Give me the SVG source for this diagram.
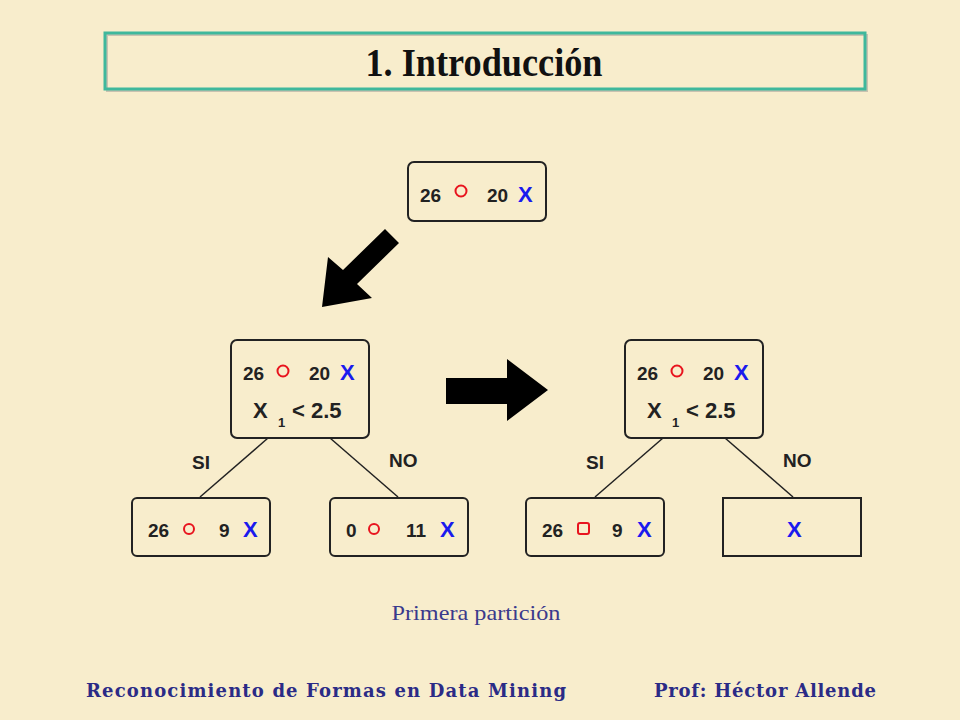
<svg xmlns="http://www.w3.org/2000/svg" width="960" height="720" viewBox="0 0 960 720">
<style>
.num{font-family:"Liberation Sans",Arial,sans-serif;font-weight:bold;font-size:19px;fill:#222}
.x{font-family:"Liberation Sans",Arial,sans-serif;font-weight:bold;font-size:22px;fill:#1a1aee}
.cond{font-family:"Liberation Sans",Arial,sans-serif;font-weight:bold;font-size:22px;fill:#222}
.sub{font-family:"Liberation Sans",Arial,sans-serif;font-weight:bold;font-size:13px;fill:#222}
.lab{font-family:"Liberation Sans",Arial,sans-serif;font-weight:bold;font-size:19px;fill:#222}
.box{fill:none;stroke:#222;stroke-width:2}
.o{fill:none;stroke:#e8141e;stroke-width:2}
.edge{stroke:#222;stroke-width:1.5;fill:none}
.foot{font-family:"DejaVu Serif","Liberation Serif",serif;font-weight:bold;font-size:18px;fill:#2b2b86}
</style>
<rect width="960" height="720" fill="#f8edcc"/>
<g id="title">
<rect x="107" y="35" width="760" height="56" fill="none" stroke="#c9c2b0" stroke-width="2"/>
<rect x="105" y="33" width="760" height="56" fill="none" stroke="#3fb89c" stroke-width="3"/>
<text x="484" y="76" text-anchor="middle" font-family="Liberation Serif,'Times New Roman',serif" font-weight="bold" font-size="40" textLength="237" lengthAdjust="spacingAndGlyphs" fill="#111">1. Introducción</text>
</g>
<g id="connectors">
<line class="edge" x1="268" y1="438" x2="200" y2="497"/>
<line class="edge" x1="330" y1="438" x2="398" y2="497"/>
<line class="edge" x1="663" y1="438" x2="595" y2="497"/>
<line class="edge" x1="725" y1="438" x2="793" y2="497"/>
<text class="lab" x="192" y="469">SI</text>
<text class="lab" x="389" y="467">NO</text>
<text class="lab" x="586" y="469">SI</text>
<text class="lab" x="783" y="467">NO</text>
</g>
<g id="arrow-down">
<polygon points="385,229 399,243 357,284 372,298 322,307 328,257 343,270" fill="#000"/>
</g>
<g id="arrow-right">
<polygon points="446,378 507,378 507,359 548,390 507,421 507,404 446,404" fill="#000"/>
</g>
<g id="root">
<rect class="box" x="408" y="162" width="138" height="59" rx="6"/>
<text class="num" x="420" y="202">26</text>
<circle class="o" cx="461" cy="191" r="5.5"/>
<text class="num" x="487" y="202">20</text>
<text class="x" x="518" y="202">X</text>
</g>
<g id="split-left">
<rect class="box" x="231" y="340" width="138" height="98" rx="6"/>
<text class="num" x="243" y="380">26</text>
<circle class="o" cx="283" cy="371" r="5.5"/>
<text class="num" x="309" y="380">20</text>
<text class="x" x="340" y="380">X</text>
<text class="cond" x="253" y="418">X</text>
<text class="sub" x="278" y="427">1</text>
<text class="cond" x="292" y="418">&lt; 2.5</text>
</g>
<g id="leaf-left-si">
<rect class="box" x="132" y="498" width="138" height="58" rx="5"/>
<text class="num" x="148" y="537">26</text>
<circle class="o" cx="189" cy="529" r="5"/>
<text class="num" x="219" y="537">9</text>
<text class="x" x="243" y="537">X</text>
</g>
<g id="leaf-left-no">
<rect class="box" x="330" y="498" width="138" height="58" rx="5"/>
<text class="num" x="346" y="537">0</text>
<circle class="o" cx="374" cy="529" r="5"/>
<text class="num" x="406" y="537">11</text>
<text class="x" x="440" y="537">X</text>
</g>
<g id="split-right">
<rect class="box" x="625" y="340" width="138" height="98" rx="6"/>
<text class="num" x="637" y="380">26</text>
<circle class="o" cx="677" cy="371" r="5.5"/>
<text class="num" x="703" y="380">20</text>
<text class="x" x="734" y="380">X</text>
<text class="cond" x="647" y="418">X</text>
<text class="sub" x="672" y="427">1</text>
<text class="cond" x="686" y="418">&lt; 2.5</text>
</g>
<g id="leaf-right-si">
<rect class="box" x="526" y="498" width="138" height="58" rx="5"/>
<text class="num" x="542" y="537">26</text>
<rect class="o" x="578" y="523" width="11" height="11" rx="2"/>
<text class="num" x="612" y="537">9</text>
<text class="x" x="637" y="537">X</text>
</g>
<g id="leaf-right-no">
<rect class="box" x="723" y="498" width="138" height="58"/>
<text class="x" x="787" y="537">X</text>
</g>
<text x="476" y="620" text-anchor="middle" font-family="Liberation Serif,'Times New Roman',serif" font-size="22" textLength="169" lengthAdjust="spacingAndGlyphs" fill="#3a3a8c">Primera partición</text>
<text class="foot" x="86" y="697" textLength="480" lengthAdjust="spacing">Reconocimiento de Formas en Data Mining</text>
<text class="foot" x="654" y="697" textLength="222" lengthAdjust="spacing">Prof: Héctor Allende</text>
</svg>
